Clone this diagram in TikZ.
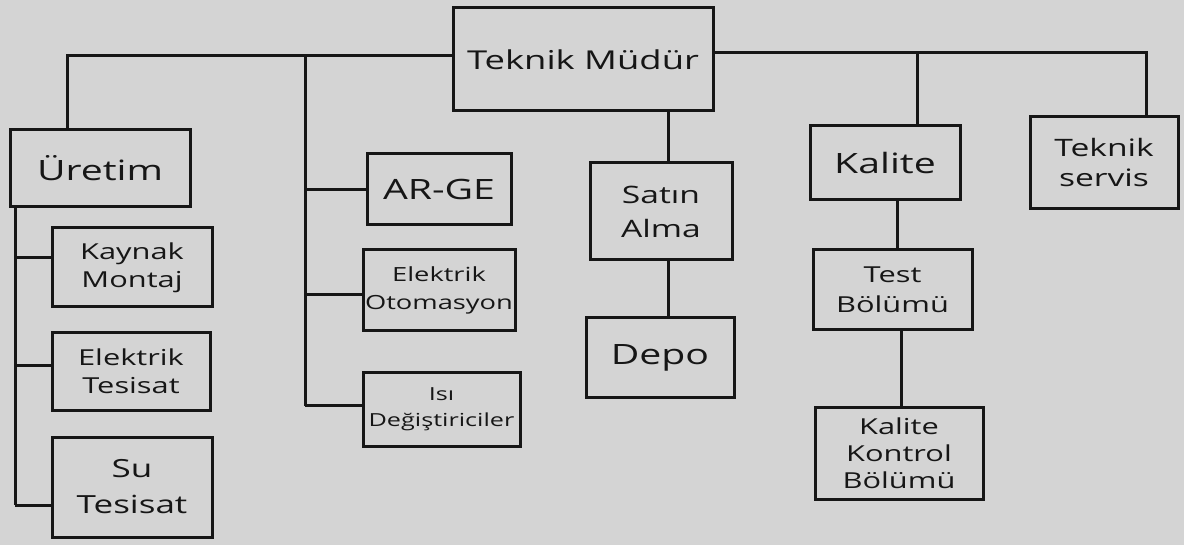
\documentclass[tikz,border=0pt]{standalone}
\usepackage{fontspec}
\setmainfont{Open Sans}[FakeStretch=1.4]
\usetikzlibrary{calc}
\definecolor{paper}{HTML}{D4D4D4}
\definecolor{ink}{HTML}{161616}
\begin{document}
\begin{tikzpicture}[x=1pt,y=-1pt,
  box/.style={draw=ink, line width=3pt, rectangle, inner sep=2pt, align=center, text=ink},
  conn/.style={draw=ink, line width=3pt}]
\fill[paper] (0,0) rectangle (1184,545);
\useasboundingbox (0,0) rectangle (1184,545);

% nodes
\node[box,font=\fontsize{26}{30}\selectfont,minimum width=260pt,minimum height=103pt] (tm) at (583,59.5) {Teknik Müdür};
\node[box,font=\fontsize{28}{32}\selectfont,minimum width=180pt,minimum height=77pt]  (ur) at (100,168.5) {Üretim};
\node[box,font=\fontsize{22}{28}\selectfont,minimum width=160pt,minimum height=79pt]  (km) at (132,267.5) {Kaynak\\Montaj};
\node[box,font=\fontsize{22}{28}\selectfont,minimum width=158pt,minimum height=77pt]  (et) at (131,371.5) {Elektrik\\Tesisat};
\node[box,font=\fontsize{25}{36}\selectfont,minimum width=160pt,minimum height=100pt] (st) at (132,487) {Su\\Tesisat};
\node[box,font=\fontsize{28}{32}\selectfont,minimum width=144pt,minimum height=71pt]  (ar) at (439,189.5) {AR-GE};
\node[box,font=\fontsize{19.5}{28}\selectfont,minimum width=152pt,minimum height=81pt]  (eo) at (439,290.5) {Elektrik\\Otomasyon};
\node[box,font=\fontsize{18}{26}\selectfont,minimum width=157pt,minimum height=73pt]  (id) at (441.5,409.5) {Isı\\Değiştiriciler};
\node[box,font=\fontsize{24}{34}\selectfont,minimum width=142pt,minimum height=97pt]  (sa) at (661,211.5) {Satın\\Alma};
\node[box,font=\fontsize{28}{32}\selectfont,minimum width=148pt,minimum height=80pt]  (de) at (660,358) {Depo};
\node[box,font=\fontsize{28}{32}\selectfont,minimum width=150pt,minimum height=74pt]  (ka) at (885,163) {Kalite};
\node[box,font=\fontsize{22}{30}\selectfont,minimum width=159pt,minimum height=80pt]  (tb) at (892.5,290) {Test\\Bölümü};
\node[box,font=\fontsize{22}{27}\selectfont,minimum width=168pt,minimum height=92pt]  (kk) at (899,453) {Kalite\\Kontrol\\Bölümü};
\node[box,font=\fontsize{24}{30}\selectfont,minimum width=148pt,minimum height=92pt]  (ts) at (1104,163) {Teknik\\servis};

% attachment points
\coordinate (tl) at ([yshift=4pt]tm.west);
\coordinate (tr) at ([yshift=7pt]tm.east);
\coordinate (ul) at (67,0);
\coordinate (ag) at (305,0);
\coordinate (us) at (15,0);
\coordinate (kmw) at ([yshift=10pt]km.west);
\coordinate (etw) at ([yshift=6pt]et.west);
\coordinate (stw) at ([yshift=-18pt]st.west);
\coordinate (eow) at ([yshift=-4pt]eo.west);
\coordinate (idw) at ([yshift=4pt]id.west);
\coordinate (tsn) at ([xshift=42pt]ts.north);
\coordinate (kan) at ([xshift=32pt]ka.north);
\coordinate (san) at ([xshift=7pt]sa.north);
\coordinate (sas) at ([xshift=7pt]sa.south);
\coordinate (kas) at ([xshift=12pt]ka.south);
\coordinate (tbs) at ([xshift=9pt]tb.south);

% top bus
\draw[conn] (tl) -- (ul |- tl) -- (ul |- ur.north);
\draw[conn] (tr) -- (tsn |- tr) -- (tsn);
\draw[conn] (kan) -- (kan |- tr);

% Uretim branch
\draw[conn] (us |- ur.south) -- (us |- stw);
\draw[conn] (us |- kmw) -- (kmw);
\draw[conn] (us |- etw) -- (etw);
\draw[conn] (us |- stw) -- (stw);

% AR-GE branch
\draw[conn] (ag |- tl) -- (ag |- idw);
\draw[conn] (ag |- ar.west) -- (ar.west);
\draw[conn] (ag |- eow) -- (eow);
\draw[conn] (ag |- idw) -- (idw);

% Satin Alma / Depo
\draw[conn] (san) -- (san |- tm.south);
\draw[conn] (sas) -- (sas |- de.north);

% Kalite chain
\draw[conn] (kas) -- (kas |- tb.north);
\draw[conn] (tbs) -- (tbs |- kk.north);
\end{tikzpicture}
\end{document}
